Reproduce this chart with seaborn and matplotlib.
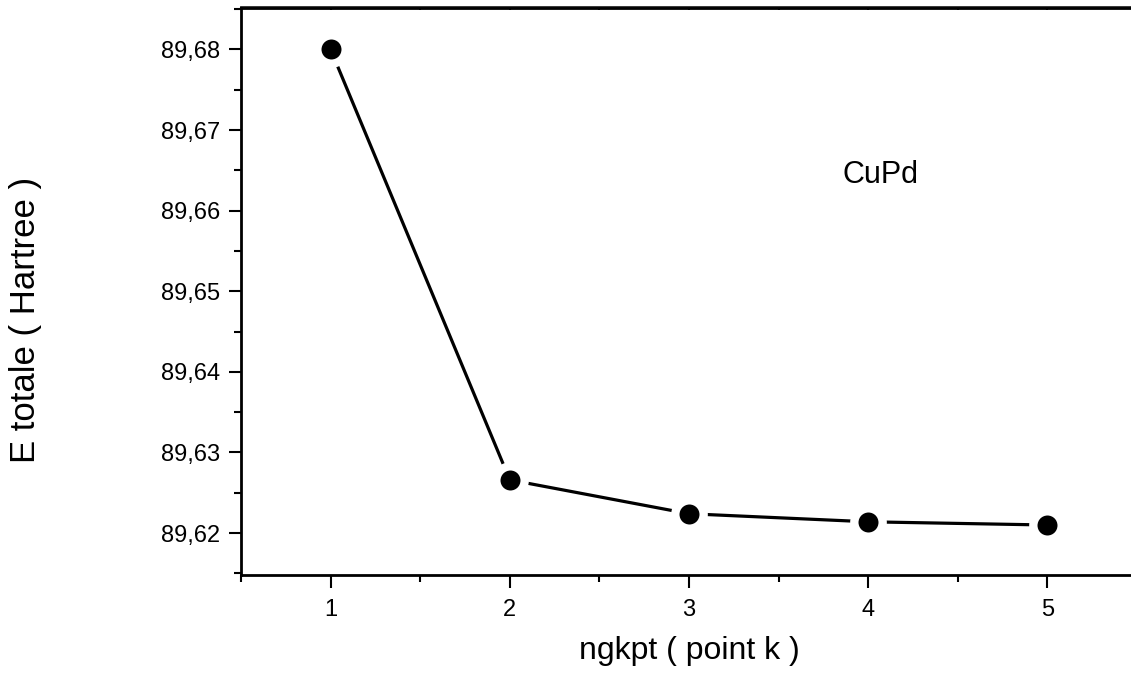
import numpy as np
import pandas as pd
import matplotlib
matplotlib.use("Agg")
import matplotlib.pyplot as plt
import seaborn as sns
from matplotlib.ticker import FuncFormatter, MultipleLocator

# Values
ngkpt = [1, 2, 3, 4, 5]
e_totale = [89.6800, 89.6266, 89.6224, 89.6214, 89.6210]

data = pd.DataFrame({"ngkpt": ngkpt, "E": e_totale})

sns.set_style("ticks")
plt.rcParams['font.family'] = ['Liberation Sans', 'DejaVu Sans']
plt.rcParams.update({"text.color": "black", "axes.labelcolor": "black",
                     "xtick.color": "black", "ytick.color": "black"})

fig = plt.figure(figsize=(11.31, 6.77), dpi=100)
# axes run slightly past the right edge, as in the reference
ax = fig.add_axes([241 / 1131, 102 / 677, 896 / 1131, 567.5 / 677])

sns.lineplot(
    data=data, x="ngkpt", y="E", ax=ax,
    color="black", linewidth=2.3,
    marker="o", markersize=20.4,
    markerfacecolor="black", markeredgecolor="white", markeredgewidth=6,
)

ax.set_xlim(0.5, 5.5)
ax.set_ylim(89.6148, 89.6852)

ax.xaxis.set_major_locator(MultipleLocator(1))
ax.xaxis.set_minor_locator(MultipleLocator(0.5))
ax.yaxis.set_major_locator(MultipleLocator(0.01))
ax.yaxis.set_minor_locator(MultipleLocator(0.005))
ax.yaxis.set_major_formatter(FuncFormatter(lambda v, p: f"{v:.2f}".replace(".", ",")))

for side in ["left", "bottom", "top"]:
    ax.spines[side].set_linewidth(2)
    ax.spines[side].set_color("black")
ax.spines["right"].set_visible(False)

ax.tick_params(axis="both", which="major", length=9, width=1.5, labelsize=17,
               direction="out", color="black", labelcolor="black")
ax.tick_params(axis="both", which="minor", length=5, width=1.5, direction="out")
ax.tick_params(axis="x", which="major", pad=8)
ax.tick_params(axis="y", which="major", pad=6)

# tiny inward ticks along the top spine
top = ax.secondary_xaxis("top")
top.xaxis.set_major_locator(MultipleLocator(1))
top.xaxis.set_minor_locator(MultipleLocator(0.5))
top.tick_params(which="both", direction="in", length=2.5, width=1.5, labeltop=False)
top.spines["top"].set_linewidth(2)

ax.set_xlabel("ngkpt ( point k )", fontsize=23, color="black")
ax.set_ylabel("E totale ( Hartree )", fontsize=25, color="black")
ax.xaxis.set_label_coords(0.5, -0.108)
ax.yaxis.set_label_coords(-0.222, 0.45)

ax.text(4.07, 89.6644, "CuPd", fontsize=22, ha="center", va="center", color="black")

fig.savefig("out.png", dpi=100)
